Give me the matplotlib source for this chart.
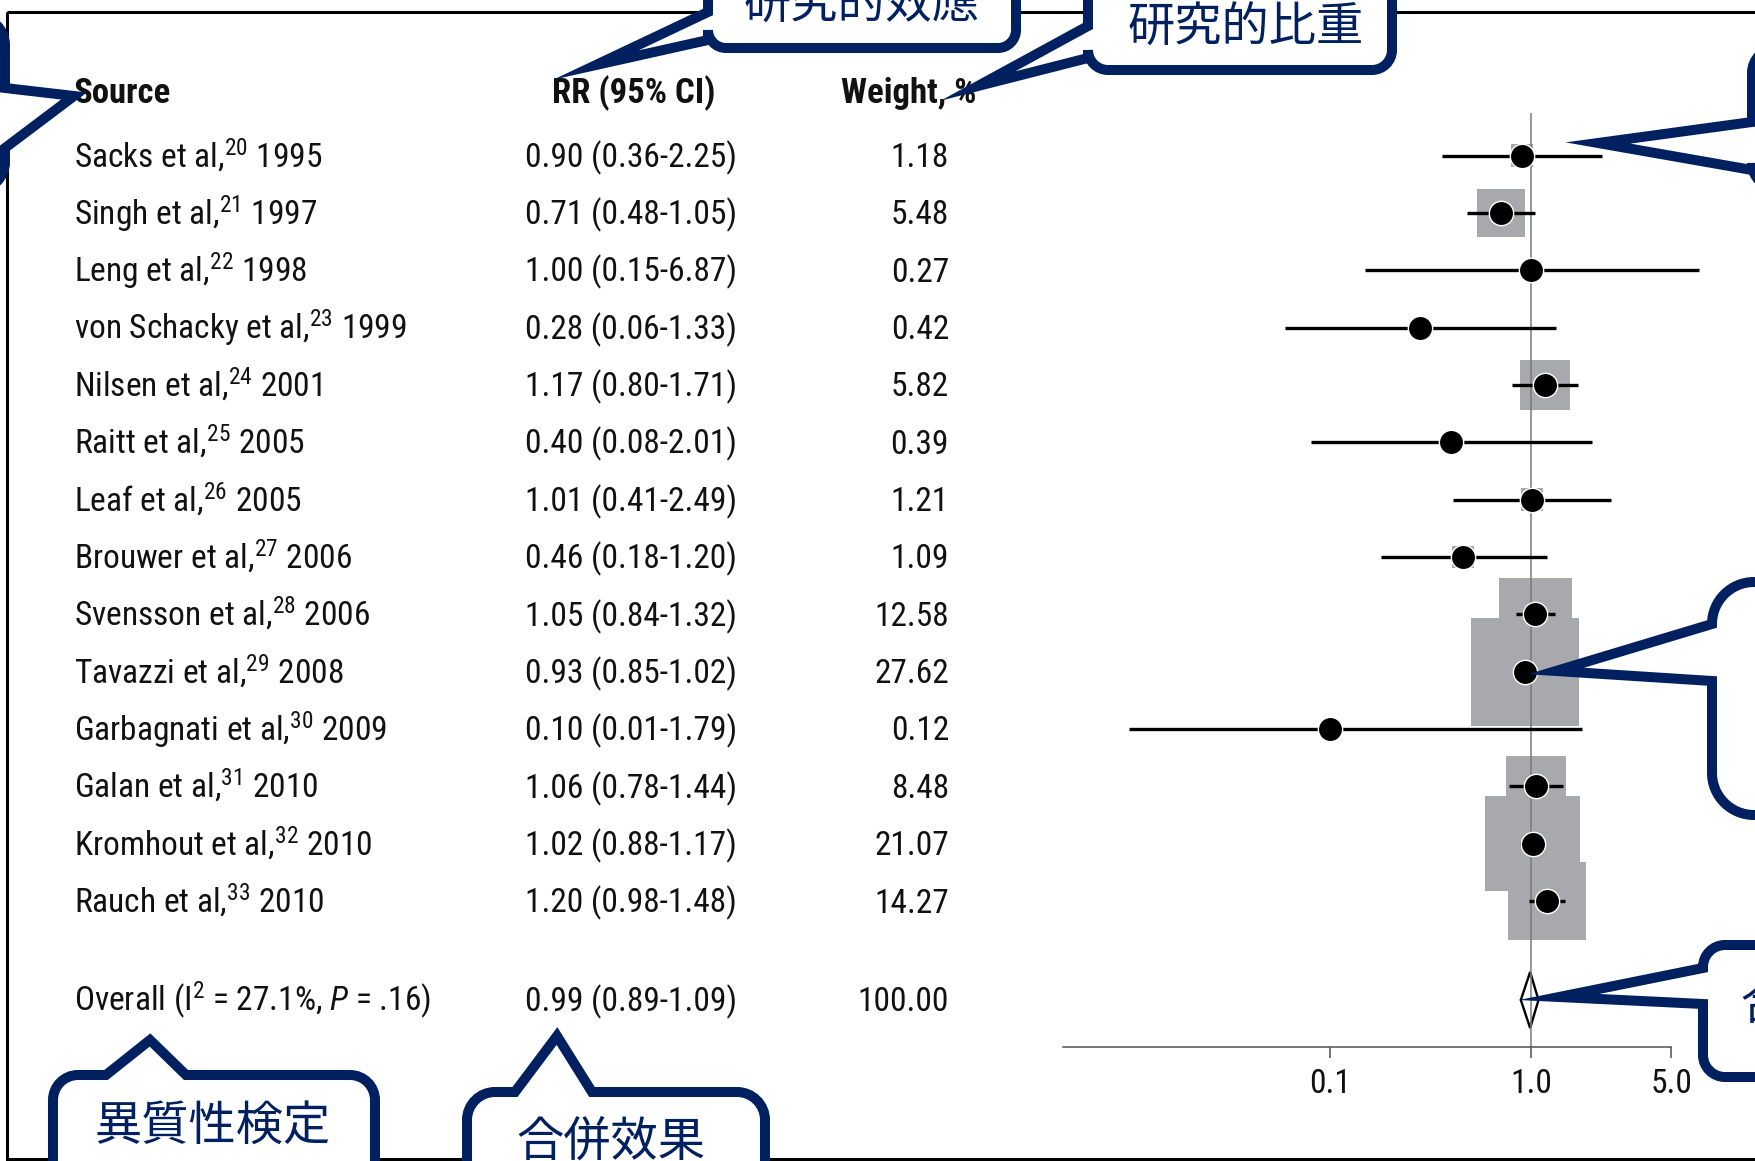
import numpy as np
import matplotlib
matplotlib.use("Agg")
import matplotlib.pyplot as plt
from matplotlib import font_manager as fm
from matplotlib import transforms as mtransforms
from matplotlib.path import Path
from matplotlib.patches import PathPatch, Rectangle

# ---------------- data ----------------
sources = [
    "Sacks et al,$^{20}$ 1995",
    "Singh et al,$^{21}$ 1997",
    "Leng et al,$^{22}$ 1998",
    "von Schacky et al,$^{23}$ 1999",
    "Nilsen et al,$^{24}$ 2001",
    "Raitt et al,$^{25}$ 2005",
    "Leaf et al,$^{26}$ 2005",
    "Brouwer et al,$^{27}$ 2006",
    "Svensson et al,$^{28}$ 2006",
    "Tavazzi et al,$^{29}$ 2008",
    "Garbagnati et al,$^{30}$ 2009",
    "Galan et al,$^{31}$ 2010",
    "Kromhout et al,$^{32}$ 2010",
    "Rauch et al,$^{33}$ 2010",
]
rr = [0.90, 0.71, 1.00, 0.28, 1.17, 0.40, 1.01, 0.46, 1.05, 0.93, 0.10, 1.06, 1.02, 1.20]
ci_low = [0.36, 0.48, 0.15, 0.06, 0.80, 0.08, 0.41, 0.18, 0.84, 0.85, 0.01, 0.78, 0.88, 0.98]
ci_high = [2.25, 1.05, 6.87, 1.33, 1.71, 2.01, 2.49, 1.20, 1.32, 1.02, 1.79, 1.44, 1.17, 1.48]
weights = [1.18, 5.48, 0.27, 0.42, 5.82, 0.39, 1.21, 1.09, 12.58, 27.62, 0.12, 8.48, 21.07, 14.27]

overall_label = "Overall (I$^2$ = 27.1%, $P$ = .16)"
overall_rr = 0.99
overall_low = 0.89
overall_high = 1.09
overall_weight = 100.00

headers = ["Source", "RR (95% CI)", "Weight, %"]
tick_values = [0.1, 1.0, 5.0]
tick_labels = ["0.1", "1.0", "5.0"]

callout_texts = ["研究的效應", "研究的比重", "異質性検定", "合併效果", "合併效果"]

# ---------------- style ----------------
NAVY = "#002060"
SQUARE_GREY = "#a8a9ad"
REF_GREY = "#7a7a7a"
AXIS_GREY = "#505050"
TXT = "#111111"

names = {f.name for f in fm.fontManager.ttflist}
BODY = None
for cand in ["Liberation Sans Narrow", "Roboto Condensed", "Archivo Narrow",
             "PT Sans Narrow", "Sofia Sans Condensed"]:
    if cand in names:
        BODY = cand
        break
if BODY is None:
    BODY = "DejaVu Sans"
    plt.rcParams["font.stretch"] = "condensed"
CJK = "Noto Sans CJK JP"

plt.rcParams["font.family"] = [BODY]
plt.rcParams["mathtext.fontset"] = "custom"
plt.rcParams["mathtext.rm"] = BODY
plt.rcParams["mathtext.it"] = BODY + ":italic"
plt.rcParams["mathtext.bf"] = BODY + ":bold"

W, H = 1755, 1161
fig = plt.figure(figsize=(W / 100, H / 100), dpi=100)
fig.patch.set_facecolor("white")

# pixel coordinates, origin at top-left
px = mtransforms.Affine2D().scale(1 / W, -1 / H).translate(0, 1) + fig.transFigure

# ---------------- forest axes ----------------
ONE_PX = 1531.0          # x pixel of RR = 1
DECADE_PX = 201.0        # pixels per decade
ROW0_PX = 155.6          # centre of first study row
ROW_PX = 57.34           # row pitch
AX_L, AX_R, AX_T, AX_B = 1063, 1705, 100, 1047

ax = fig.add_axes([AX_L / W, 1 - AX_B / H, (AX_R - AX_L) / W, (AX_B - AX_T) / H])
ax.set_xscale("log")
ax.set_xlim(10 ** ((AX_L - ONE_PX) / DECADE_PX), 10 ** ((AX_R - ONE_PX) / DECADE_PX))
ax.set_ylim((AX_B - ROW0_PX) / ROW_PX, (AX_T - ROW0_PX) / ROW_PX)
ax.patch.set_alpha(0)

n = len(sources)
ypos = np.arange(n, dtype=float)
y_overall = (1000 - ROW0_PX) / ROW_PX

# weight squares (area proportional to weight)
side_pt = 20.6 * np.sqrt(np.array(weights)) * 0.72
ax.scatter(rr, ypos, marker="s", s=side_pt ** 2, c=SQUARE_GREY, linewidths=0,
           zorder=2, clip_on=False)

# pooled estimate diamond
dh = 28 / ROW_PX
ax.fill([overall_low, overall_rr, overall_high, overall_rr],
        [y_overall, y_overall - dh, y_overall, y_overall + dh],
        facecolor="white", edgecolor="black", linewidth=1.7, zorder=2.4, clip_on=False)

# line of no effect
ax.plot([1, 1], [ax.get_ylim()[0], (113 - ROW0_PX) / ROW_PX], color=REF_GREY,
        lw=1.1, zorder=2.5, clip_on=False, solid_capstyle="butt")

# confidence intervals
ax.hlines(ypos, ci_low, ci_high, color="black", lw=2.4, zorder=3, clip_on=False)

# point estimates
ax.plot(rr, ypos, "o", ms=17.5, mfc="black", mec="white", mew=1.0, zorder=5,
        clip_on=False)

for s in ["top", "left", "right"]:
    ax.spines[s].set_visible(False)
ax.spines["bottom"].set_color(AXIS_GREY)
ax.spines["bottom"].set_linewidth(1.1)
ax.spines["bottom"].set_bounds(ax.get_xlim()[0], tick_values[-1])
ax.set_yticks([])
ax.set_xticks(tick_values)
ax.set_xticklabels(tick_labels)
ax.xaxis.set_minor_locator(matplotlib.ticker.NullLocator())
ax.tick_params(axis="x", length=8, width=1.1, color=AXIS_GREY, pad=7,
               labelsize=24, labelcolor=TXT)

# ---------------- text columns ----------------
row_tr = mtransforms.blended_transform_factory(px, ax.transData)
row_tr = mtransforms.offset_copy(row_tr, fig=fig, x=0, y=-11.5 * 0.72, units="points")
FS = 24
HFS = 25
for i in range(n):
    fig.text(74, ypos[i], sources[i], transform=row_tr, fontsize=FS, color=TXT,
             ha="left", va="baseline")
    fig.text(525, ypos[i], f"{rr[i]:.2f} ({ci_low[i]:.2f}-{ci_high[i]:.2f})",
             transform=row_tr, fontsize=FS, color=TXT, ha="left", va="baseline")
    fig.text(949, ypos[i], f"{weights[i]:.2f}", transform=row_tr, fontsize=FS,
             color=TXT, ha="right", va="baseline")

fig.text(74, y_overall, overall_label, transform=row_tr, fontsize=FS, color=TXT,
         ha="left", va="baseline")
fig.text(525, y_overall, f"{overall_rr:.2f} ({overall_low:.2f}-{overall_high:.2f})",
         transform=row_tr, fontsize=FS, color=TXT, ha="left", va="baseline")
fig.text(949, y_overall, f"{overall_weight:.2f}", transform=row_tr, fontsize=FS,
         color=TXT, ha="right", va="baseline")

fig.text(74, 103, headers[0], transform=px, fontsize=HFS, fontweight="bold",
         color=TXT, ha="left", va="baseline")
fig.text(634, 103, headers[1], transform=px, fontsize=HFS, fontweight="bold",
         color=TXT, ha="center", va="baseline")
fig.text(976, 103, headers[2], transform=px, fontsize=HFS, fontweight="bold",
         color=TXT, ha="right", va="baseline")

# ---------------- outer frame ----------------
fig.add_artist(Rectangle((7, 12), 1800, 1147, transform=px, fill=False,
                         edgecolor="black", lw=2.2, zorder=1))

# ---------------- speech-bubble callouts ----------------
K = 0.5523


def callout_path(x0, y0, x1, y1, r, side, b0, b1, tip):
    verts, codes = [], []

    def line(p):
        verts.append(p)
        codes.append(Path.LINETO)

    def corner(p, c, q):
        verts.extend([(p[0] + K * (c[0] - p[0]), p[1] + K * (c[1] - p[1])),
                      (q[0] + K * (c[0] - q[0]), q[1] + K * (c[1] - q[1])), q])
        codes.extend([Path.CURVE4] * 3)

    verts.append((x0 + r, y0))
    codes.append(Path.MOVETO)
    if side == "top":
        line((b0, y0)); line(tip); line((b1, y0))
    line((x1 - r, y0)); corner((x1 - r, y0), (x1, y0), (x1, y0 + r))
    if side == "right":
        line((x1, b0)); line(tip); line((x1, b1))
    line((x1, y1 - r)); corner((x1, y1 - r), (x1, y1), (x1 - r, y1))
    if side == "bottom":
        line((b1, y1)); line(tip); line((b0, y1))
    line((x0 + r, y1)); corner((x0 + r, y1), (x0, y1), (x0, y1 - r))
    if side == "left":
        line((x0, b1)); line(tip); line((x0, b0))
    line((x0, y0 + r)); corner((x0, y0 + r), (x0, y0), (x0 + r, y0))
    verts.append((x0 + r, y0))
    codes.append(Path.CLOSEPOLY)
    return Path(verts, codes)


bubbles = [
    # x0, y0, x1, y1, radius, side, base0, base1, tip
    (-400, 17, 5, 190, 28, "right", 88, 148, (74, 96)),
    (708, -200, 1016, 48, 18, "left", 12, 40, (596, 65)),
    (1088, -200, 1392, 70, 20, "left", 26, 58, (978, 86)),
    (1752, 48, 2200, 188, 25, "left", 122, 170, (1598, 143)),
    (1712, 582, 2200, 815, 42, "left", 624, 681, (1556, 671)),
    (1703, 945, 2200, 1077, 22, "left", 968, 1004, (1559, 997)),
    (53, 1075, 375, 1400, 25, "top", 106, 186, (150, 1040)),
    (467, 1092, 765, 1400, 28, "top", 515, 592, (557, 1036)),
]
for b in bubbles:
    fig.add_artist(PathPatch(callout_path(*b), transform=px, facecolor="white",
                             edgecolor=NAVY, lw=7.2, joinstyle="miter",
                             capstyle="butt", zorder=5))

CFS = 34
label_specs = [
    (862, 19, "center"),
    (1246, 42, "center"),
    (213, 1140, "center"),
    (611, 1156, "center"),
    (1740, 1019, "left"),
]
for (x, y, ha), t in zip(label_specs, callout_texts):
    fig.text(x, y, t, transform=px, fontsize=CFS, color=NAVY, ha=ha,
             va="baseline", family=[CJK, "DejaVu Sans"], zorder=6)

fig.savefig("out.png", dpi=100, facecolor="white")
